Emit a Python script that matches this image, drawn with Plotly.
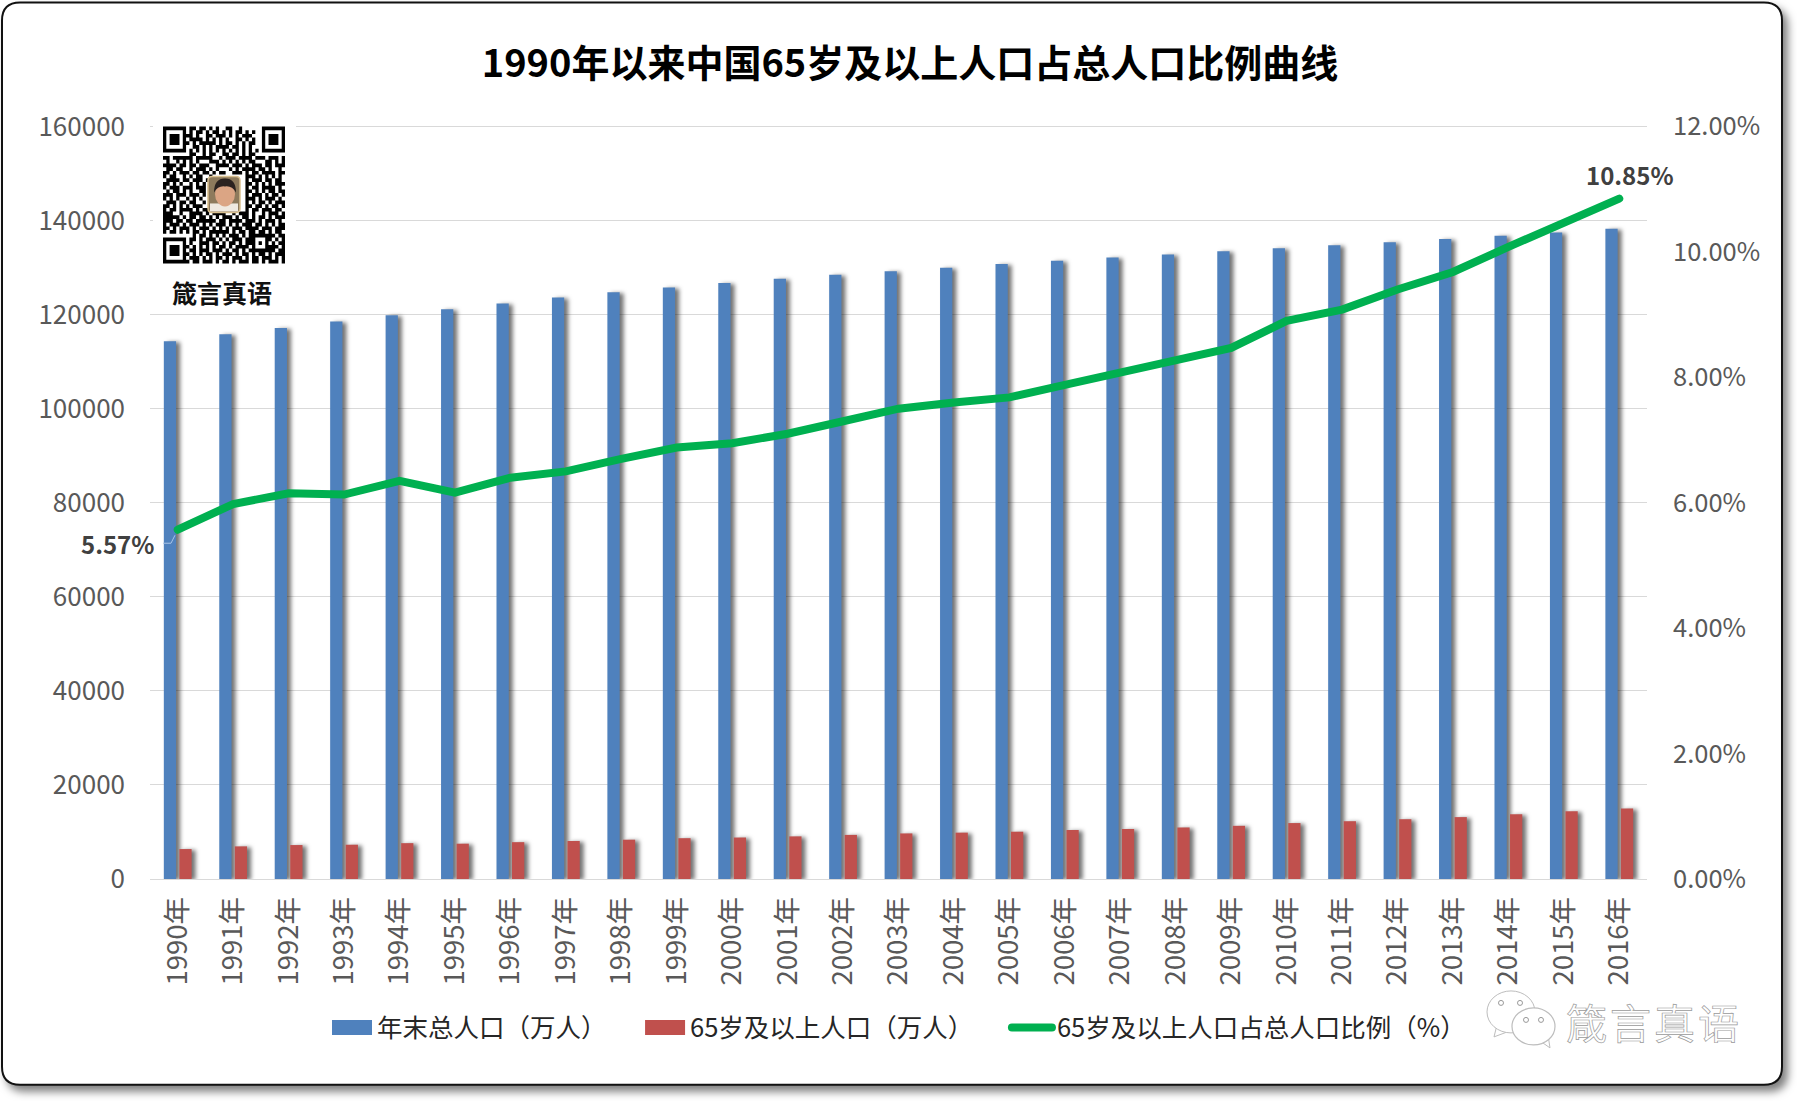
import plotly.graph_objects as go

W, H = 1797, 1101
L, R, T, B = 150, 1647, 124.5, 879

years = [f"{y}年" for y in range(1990, 2017)]
total_pop = [114333, 115823, 117171, 118517, 119850, 121121, 122389, 123626, 124761, 125786,
             126743, 127627, 128453, 129227, 129988, 130756, 131448, 132129, 132802, 133450,
             134091, 134735, 135404, 136072, 136782, 137462, 138271]
elderly_pop = [6368, 6938, 7218, 7289, 7622, 7510, 7833, 8085, 8359, 8679,
               8821, 9062, 9377, 9692, 9857, 10055, 10419, 10636, 10956, 11307,
               11894, 12288, 12714, 13161, 13755, 14386, 15003]
elderly_pct = [5.57, 5.98, 6.15, 6.13, 6.35, 6.16, 6.4, 6.5, 6.7, 6.88,
               6.95, 7.1, 7.3, 7.5, 7.6, 7.68, 7.88, 8.08, 8.27, 8.47,
               8.9, 9.08, 9.4, 9.68, 10.08, 10.47, 10.85]
left_ticks = [0, 20000, 40000, 60000, 80000, 100000, 120000, 140000, 160000]
right_ticks = [0, 2, 4, 6, 8, 10, 12]
right_labels = ["0.00%", "2.00%", "4.00%", "6.00%", "8.00%", "10.00%", "12.00%"]
y_left_top = 160320
y_right_top = 12.024
series_names = ["年末总人口（万人）", "65岁及以上人口（万人）", "65岁及以上人口占总人口比例（%）"]
title_text = "1990年以来中国65岁及以上人口占总人口比例曲线"
FONT = "Noto Sans CJK SC"

qr_rows = [
    "0000000011.1101.1.0110.1..0..0000000",
    "0000000.1.11.1.11.1.1.11.1.1.0000000",
    "00000001101..11.111.1.1.1110.0000000",
    "0000000.1111.1.1.1.1..11.1.1.0000000",
    "00000001.1.11111.1.11.1.1.11.0000000",
    "0000000..11.1.1.1111.11.1.1..0000000",
    "0000000.1.1.1.1.1.1.1.1.1.1.10000000",
    "........11..1.11..11.11.1.11.........",
    "11.111111.11111..1.111.1111.111.111.1",
    ".1..1.1.1.1...111.1.1.1.1.11...11.1.1",
    "1111.11.11.111..1111.111.1.111.11.111",
    ".11.11..1.111.1.1...1.1.1111.11.1..1.",
    "11.1.111.11.11.1.11..111.1.11.1111.11",
    "1.11..1.1.11..1..........111.1.1.1.1.",
    ".1111.11.111.1...........1.111.11.11.",
    "11.1.1..1.1.1............11.1.1.1.111",
    "1.111.111.111............1.11.1111.1.",
    ".1.11.1.1..11............11.1.1.11.11",
    "111.111.111.1............1.111.1.11.1",
    "1.1.1..1.1.1.............111.1.111.1.",
    ".111.11.11..1............1.1.11.1.111",
    "11.1.1.1.111.............11.11.1.11.1",
    "1.11.1111.1.11...........1.11.111.11.",
    "111..1..1111.1.1111..1.111.1..1.111.1",
    "11111.1.11.11.1.1.111.1.11.1.11.1.111",
    "111.11.11.111111.11.1111.111.1.111.1.",
    "1.111.1.111.1.1.111.1.1.111.11.1.1.11",
    "11.1.111.1.111.1.1.1.111.1111.111.111",
    "1.11.1.1.11.1.111111.1.11.11.11.1.11.",
    ".........1.11.1.1.1.111.1.11111111.11",
    "0000000.11.1.111.1.1.111.111...11.1.1",
    "0000000.1..111.11.1.11.1.111.1.1.1.11",
    "00000001.1.1.1.1.11.1.1111.1...1111.1",
    "0000000.11.111.111.1.11.1.11111111.11",
    "00000001.1.1.11.1.111.1.11.1.11.1.111",
    "0000000.111.1.1.11.1.111.1.11.111.1.1",
    "00000001.11.111.1.11.1.111.11.1.111.1",
]

PW, PH = R - L, B - T
def px(x):
    return (x - L) / PW
def py(y):
    return (B - y) / PH

def paper_shape(x0, y0, x1, y1, kind="rect", **kw):
    return dict(type=kind, xref="paper", yref="paper", x0=px(x0), x1=px(x1), y0=py(y0), y1=py(y1), **kw)

def paper_path(points, **kw):
    d = ""
    for c, x, y in points:
        d += f"{c}{px(x):.5f},{py(y):.5f} " if c != "Z" else "Z "
    return dict(type="path", xref="paper", yref="paper", path=d, **kw)

def rounded(x0, y0, x1, y1, r):
    k = r
    def P(x, y):
        return f"{px(x):.5f},{py(y):.5f}"
    return (f"M{P(x0+k,y0)} L{P(x1-k,y0)} Q{P(x1,y0)} {P(x1,y0+k)} L{P(x1,y1-k)} Q{P(x1,y1)} {P(x1-k,y1)} "
            f"L{P(x0+k,y1)} Q{P(x0,y1)} {P(x0,y1-k)} L{P(x0,y0+k)} Q{P(x0,y0)} {P(x0+k,y0)} Z")

shapes = []
# card frame
shapes.append(dict(type="path", xref="paper", yref="paper", layer="below", path=rounded(2, 2, 1782, 1085, 18),
                   fillcolor="white", line=dict(color="#111111", width=2)))
# white panel behind the QR code
shapes.append(paper_shape(153, 118, 296, 306, layer="above", fillcolor="white", line=dict(width=0)))

# QR code
QX0, QX1, QY0, QY1 = 163, 285, 126, 263
N = 37
cw, ch = (QX1 - QX0) / N, (QY1 - QY0) / N
def finder(r, c):
    return (r < 7 and c < 7) or (r < 7 and c >= N - 7) or (r >= N - 7 and c < 7)
def finder_on(r, c):
    rr = r if r < 7 else r - (N - 7)
    cc = c if c < 7 else c - (N - 7)
    if rr in (0, 6) or cc in (0, 6):
        return True
    return 2 <= rr <= 4 and 2 <= cc <= 4
d = ""
for r in range(N):
    row = qr_rows[r].ljust(N, ".")
    for c in range(N):
        on = finder_on(r, c) if finder(r, c) else row[c] == "1"
        if on:
            x0, x1 = QX0 + c * cw, QX0 + (c + 1) * cw
            y0, y1 = QY0 + r * ch, QY0 + (r + 1) * ch
            d += f"M{px(x0):.5f},{py(y0):.5f}H{px(x1):.5f}V{py(y1):.5f}H{px(x0):.5f}Z"
shapes.append(dict(type="path", xref="paper", yref="paper", layer="above", path=d, fillcolor="black", line=dict(width=0)))

# portrait in the QR centre
shapes.append(dict(type="path", xref="paper", yref="paper", layer="above", path=rounded(208, 176, 240, 212, 4),
                   fillcolor="#8d7a5c", line=dict(color="#d8bf8f", width=1.5)))
shapes.append(paper_shape(210, 203, 238, 211, layer="above", fillcolor="#efe9e0", line=dict(width=0)))
shapes.append(paper_shape(215, 181, 235, 206, kind="circle", layer="above", fillcolor="#dba584", line=dict(width=0)))
shapes.append(dict(type="path", xref="paper", yref="paper", layer="above",
                   path=f"M{px(214):.5f},{py(192):.5f} Q{px(214):.5f},{py(178):.5f} {px(225):.5f},{py(178):.5f} "
                        f"Q{px(236):.5f},{py(178):.5f} {px(236):.5f},{py(192):.5f} Q{px(232):.5f},{py(185):.5f} {px(225):.5f},{py(186):.5f} "
                        f"Q{px(218):.5f},{py(185):.5f} {px(214):.5f},{py(192):.5f} Z",
                   fillcolor="#2b2320", line=dict(width=0)))

# leader line of the first label
shapes.append(paper_path([("M", 163, 543), ("L", 171, 543), ("L", 175, 535)], layer="above",
                         line=dict(color="#a9c4e6", width=1)))

# WeChat style icon in the watermark
icon = "#bdbdbd"
shapes.append(paper_path([("M", 1497, 1025), ("L", 1494, 1037), ("L", 1510, 1031), ("Z", 0, 0)], layer="above",
                         fillcolor="white", line=dict(color=icon, width=1)))
shapes.append(paper_shape(1487, 991, 1535, 1033, kind="circle", layer="above", fillcolor="white", line=dict(color=icon, width=1)))
shapes.append(paper_path([("M", 1540, 1041), ("L", 1550, 1048), ("L", 1548, 1035), ("Z", 0, 0)], layer="above",
                         fillcolor="white", line=dict(color=icon, width=1)))
shapes.append(paper_shape(1512, 1008, 1555, 1045, kind="circle", layer="above", fillcolor="white", line=dict(color=icon, width=1.2)))
for cx, cy in [(1501, 1003), (1520, 1003), (1526, 1020), (1541, 1020)]:
    shapes.append(paper_shape(cx - 2.5, cy - 2.5, cx + 2.5, cy + 2.5, kind="circle", layer="above",
                              fillcolor="white", line=dict(color="#999999", width=1)))

def note(text, x, y, size, color, bold=False):
    return dict(text=f"<b>{text}</b>" if bold else text, xref="paper", yref="paper", x=px(x), y=py(y),
                xanchor="center", yanchor="middle", showarrow=False,
                font=dict(family=FONT, size=size, color=color))

annotations = [
    note("箴言真语", 222, 292, 25, "#111111", bold=True),
    note("箴言真语", 1654, 1021, 41, "#c4c4c4"),
    dict(text=f"<b>{elderly_pct[0]:.2f}%</b>", x=years[0], y=elderly_pct[0], xref="x", yref="y2",
         xshift=-60, yshift=-14, showarrow=False, font=dict(family=FONT, size=24, color="#404040")),
    dict(text=f"<b>{elderly_pct[-1]:.2f}%</b>", x=years[-1], y=elderly_pct[-1], xref="x", yref="y2",
         xshift=11, yshift=24, showarrow=False, font=dict(family=FONT, size=24, color="#404040")),
]

fig = go.Figure()
fig.add_bar(x=years, y=total_pop, name=series_names[0] + "\u00a0" * 5,
            marker=dict(color="#4F81BD", line=dict(width=0)), yaxis="y")
fig.add_bar(x=years, y=elderly_pop, name=series_names[1] + "\u00a0" * 5,
            marker=dict(color="#C0504D", line=dict(width=0)), yaxis="y")
fig.add_scatter(x=years, y=elderly_pct, name=series_names[2], mode="lines", yaxis="y2",
                line=dict(color="#00B050", width=8))

fig.update_layout(
    width=W, height=H, autosize=False,
    margin=dict(l=L, r=W - R, t=T, b=H - B, pad=0),
    paper_bgcolor="white", plot_bgcolor="rgba(0,0,0,0)",
    font=dict(family=FONT, size=25, color="#595959"),
    title=dict(text=f"<b>{title_text}</b>", x=px(910), xref="paper", xanchor="center",
               y=1 - 64 / H, yanchor="middle", font=dict(family=FONT, size=38, color="#000000")),
    barmode="group", bargap=0.44, bargroupgap=0.21,
    xaxis=dict(type="category", range=[-0.5, 26.5], tickangle=-90, ticks="", showgrid=False, showline=True,
               linecolor="#D9D9D9", linewidth=1, tickfont=dict(family=FONT, size=27.5, color="#595959"),
               ticklabelstandoff=6),
    yaxis=dict(range=[0, y_left_top], tickvals=left_ticks, ticktext=[str(v) for v in left_ticks], ticks="",
               showline=False, showgrid=True, gridcolor="#D9D9D9", gridwidth=1, zeroline=False, ticklabelstandoff=24,
               tickfont=dict(family=FONT, size=26, color="#595959")),
    yaxis2=dict(range=[0, y_right_top], tickvals=right_ticks, ticktext=right_labels, overlaying="y", side="right",
                ticks="", showgrid=False, zeroline=False, showline=False, ticklabelstandoff=25,
                tickfont=dict(family=FONT, size=25.5, color="#595959")),
    legend=dict(orientation="h", x=px(327), xanchor="left", y=py(1028), yanchor="middle",
                font=dict(family=FONT, size=25.5, color="#262626"), itemwidth=40, bgcolor="rgba(0,0,0,0)",
                traceorder="normal", itemclick=False, itemdoubleclick=False),
    shapes=shapes, annotations=annotations,
)

post = """
document.body.style.margin = '0';
function polish() {
  document.querySelectorAll('.bars .point path').forEach(function (p) {
    p.style.filter = 'drop-shadow(4px 1px 2px rgba(0,0,0,0.55))';
  });
  document.querySelectorAll('.layer-below .shapelayer path').forEach(function (p) {
    p.style.filter = 'drop-shadow(5px 6px 4px rgba(0,0,0,0.5))';
  });
  document.querySelectorAll('.legend .legendpoints path').forEach(function (p) {
    p.setAttribute('d', 'M20,7.5H-20V-7.5H20Z');
  });
  document.querySelectorAll('.legendlines path, .scatterlayer .js-line').forEach(function (p) {
    p.style.strokeLinecap = 'round';
  });
  document.querySelectorAll('.annotation-text').forEach(function (t) {
    if (t.textContent === '箴言真语' && t.getBoundingClientRect().left > 1000) {
      t.style.fill = '#ffffff';
      t.style.stroke = '#9a9a9a';
      t.style.strokeWidth = '0.7px';
      t.style.letterSpacing = '3px';
    }
  });
}
polish();
setTimeout(polish, 200);
"""
fig.write_html("out.html", post_script=post, config=dict(displayModeBar=False, responsive=False))
